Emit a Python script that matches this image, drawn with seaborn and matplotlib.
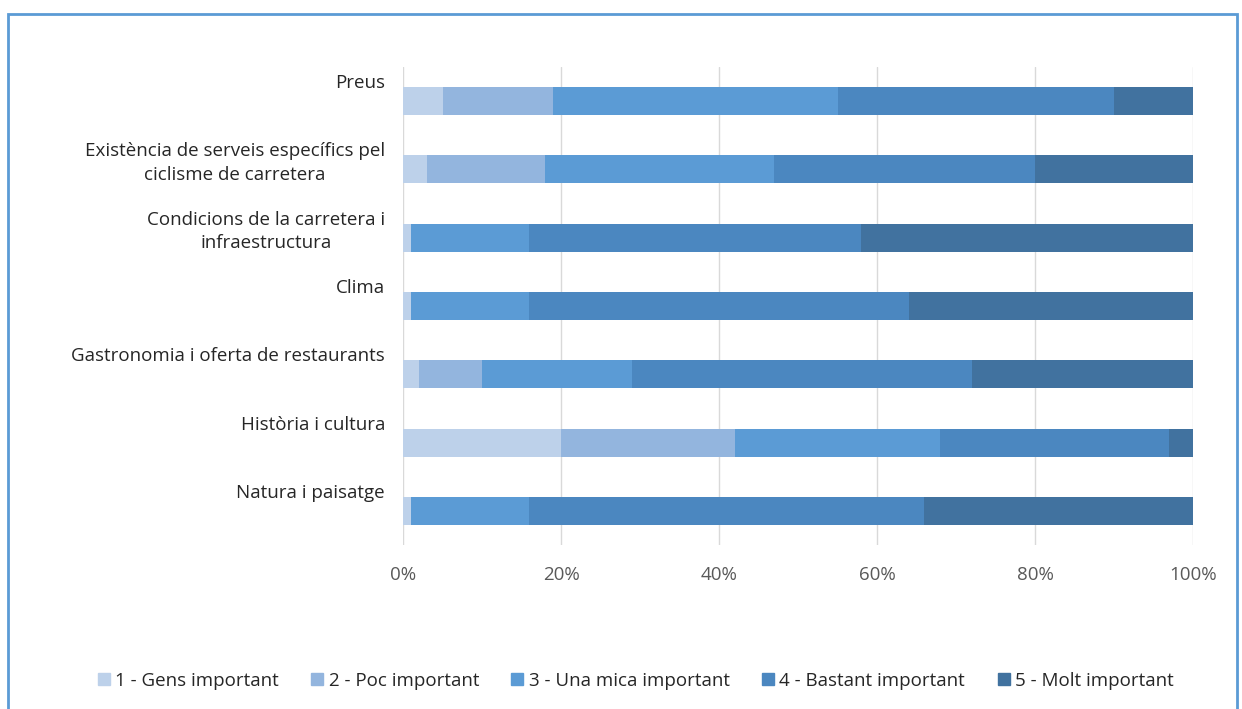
import matplotlib
matplotlib.use("Agg")
import matplotlib.pyplot as plt
import matplotlib.transforms as mtransforms
from matplotlib.lines import Line2D
from matplotlib.patches import Rectangle
import seaborn as sns
import pandas as pd
import numpy as np

categories = [
    "Preus",
    "Existència de serveis específics pel\nciclisme de carretera",
    "Condicions de la carretera i\ninfraestructura",
    "Clima",
    "Gastronomia i oferta de restaurants",
    "Història i cultura",
    "Natura i paisatge",
]
series_names = [
    "1 - Gens important",
    "2 - Poc important",
    "3 - Una mica important",
    "4 - Bastant important",
    "5 - Molt important",
]
s1 = [5, 3, 1, 1, 2, 20, 1]
s2 = [14, 15, 0, 0, 8, 22, 0]
s3 = [36, 29, 15, 15, 19, 26, 15]
s4 = [35, 33, 42, 48, 43, 29, 50]
s5 = [10, 20, 42, 36, 28, 3, 34]
xtick_labels = ["0%", "20%", "40%", "60%", "80%", "100%"]

colors = ["#bdd1ea", "#93b5de", "#5b9bd5", "#4b87c0", "#41729f"]

sns.set_theme(style="white")
plt.rcParams["font.family"] = ["Open Sans", "DejaVu Sans"]

fig = plt.figure(figsize=(12.42, 7.09), dpi=100)
ax = fig.add_axes([403/1242, 1 - 545/709, (1193 - 403)/1242, (545 - 67)/709])

series = [s1, s2, s3, s4, s5]
cum = np.cumsum(np.array(series), axis=0)
df = pd.DataFrame({"cat": categories})
for k in range(len(series) - 1, -1, -1):
    df["v"] = cum[k]
    sns.barplot(data=df, x="v", y="cat", orient="h", color=colors[k],
                width=0.41, saturation=1, ax=ax, linewidth=0, zorder=3)

ax.set_xlim(0, 100)
ax.set_ylim(6.5, -0.5)
ax.set_xticks(np.arange(0, 101, 20))
ax.set_xticklabels(xtick_labels, fontsize=13.5, color="#595959")
ax.xaxis.grid(True, color="#d9d9d9", linewidth=1, zorder=0)
ax.set_axisbelow(True)
ax.set_xlabel("")
ax.set_ylabel("")
for sp in ax.spines.values():
    sp.set_visible(False)
ax.tick_params(axis="both", length=0)
ax.tick_params(axis="x", pad=15)
ax.tick_params(axis="y", pad=13)

offset = mtransforms.ScaledTranslation(0, 27/100, fig.dpi_scale_trans)
for lab in ax.get_yticklabels():
    lab.set_fontsize(13.5)
    lab.set_color("#262626")
    lab.set_va("top")
    lab.set_multialignment("center")
    lab.set_linespacing(1.38)
    lab.set_transform(lab.get_transform() + offset)

handles = [Line2D([0], [0], marker="s", linestyle="", markersize=8,
                  markerfacecolor=c, markeredgecolor=c) for c in colors]
fig.legend(handles, series_names, loc="center", bbox_to_anchor=(634/1242, 1 - 681/709),
           ncol=5, frameon=False, fontsize=13.5, handletextpad=0.1,
           columnspacing=1.55, handlelength=1.0,
           labelcolor="#262626")

fig.add_artist(Rectangle((8/1242, -0.05), (1237 - 8)/1242, 1.05 - 14/709,
                         transform=fig.transFigure, fill=False,
                         edgecolor="#5b9bd5", linewidth=2))

fig.savefig("out.png", dpi=100)
